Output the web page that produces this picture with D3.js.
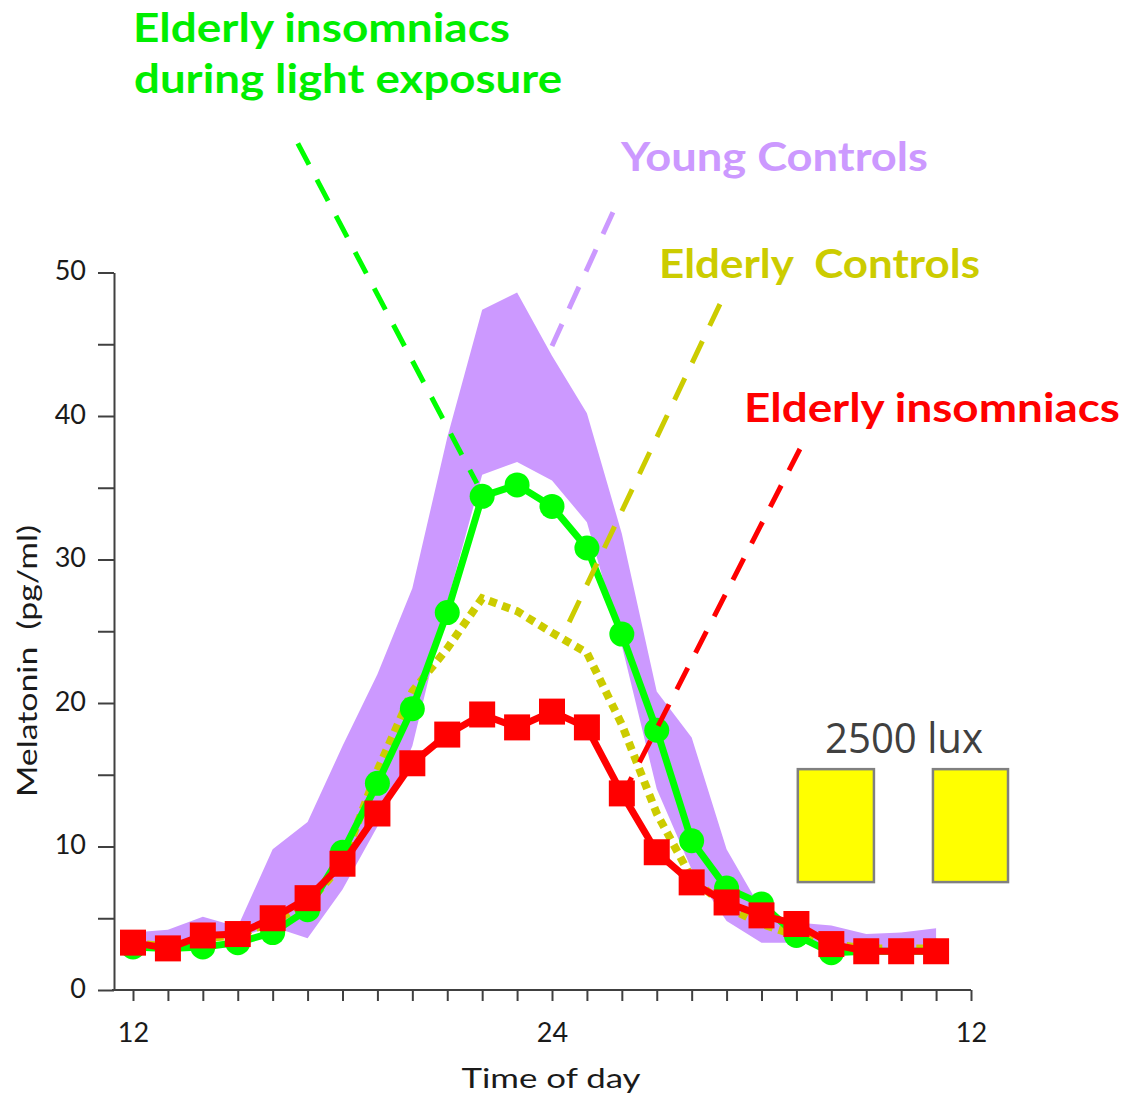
<!DOCTYPE html>
<html><head><meta charset="utf-8">
<script src="https://cdn.jsdelivr.net/npm/d3@7"></script>
<style>body{margin:0;background:#fff}svg{display:block}text{white-space:pre}</style>
</head><body>
<svg id="chart" width="1127" height="1095"></svg>
<script>
// ---------- data ----------
const hours = [12,13,14,15,16,17,18,19,20,21,22,23,24,25,26,27,28,29,30,31,32,33,34,35];
const youngUpper = [4.0,4.2,5.1,4.4,9.8,11.7,17.0,22.0,28.0,38.5,47.4,48.6,44.2,40.2,31.8,20.8,17.6,9.8,5.6,4.7,4.5,3.9,4.0,4.3];
const youngLower = [3.0,3.2,3.4,3.7,4.4,3.6,7.0,11.4,17.0,27.0,35.9,36.8,35.5,32.6,24.0,14.0,8.4,4.8,3.3,3.3,3.0,2.8,2.8,2.8];
const elderlyControls = [3.3,3.0,3.6,3.8,4.8,6.0,8.8,15.3,20.8,23.8,27.3,26.4,24.9,23.5,18.5,12.3,7.8,5.8,4.6,3.8,3.2,2.9,2.9,2.9];
const insomniacsLight = [3.0,2.9,3.0,3.3,4.0,5.6,9.6,14.4,19.6,26.3,34.4,35.2,33.7,30.8,24.8,18.1,10.4,7.1,6.0,3.8,2.6,2.7,2.7,2.7];
const insomniacs = [3.3,2.9,3.8,3.9,5.0,6.4,8.8,12.3,15.8,17.8,19.2,18.3,19.4,18.3,13.7,9.6,7.5,6.1,5.2,4.6,3.2,2.7,2.7,2.7];
const xTicks = [12,13,14,15,16,17,18,19,20,21,22,23,24,25,26,27,28,29,30,31,32,33,34,35,36];
const xTickLabels = {12:"12", 24:"24", 36:"12"};
const yTicks = [0,5,10,15,20,25,30,35,40,45,50];
const yTickLabels = {0:"0",10:"10",20:"20",30:"30",40:"40",50:"50"};
// light boxes (hours / melatonin units)
const lightBoxes = [{x0:31.04,x1:33.22,y0:7.52,y1:15.39},{x0:34.91,x1:37.06,y0:7.52,y1:15.39}];
// label pointers (hours / melatonin units)
const pointers = [
  {color:"#00ff00", from:[16.72,59.0], to:[21.85,35.3]},
  {color:"#cc99ff", from:[25.745,54.2], to:[23.91,44.4]},
  {color:"#cccc00", from:[28.81,47.8], to:[24.31,24.7]},
  {color:"#ff0000", from:[31.10,37.7], to:[26.09,13.9]}
];

// ---------- layout ----------
const svg = d3.select("#chart");
const x = d3.scaleLinear().domain([12,36]).range([133,971]);
const y = d3.scaleLinear().domain([0,50]).range([990,272.5]);
const yAxisX = 114;
const font = "Lato, 'Noto Sans', sans-serif";

// band
svg.append("path")
  .attr("d", d3.area().x((d,i)=>x(hours[i])).y0((d,i)=>y(youngLower[i])).y1((d,i)=>y(youngUpper[i]))(hours))
  .attr("fill","#cc99ff");

// elderly controls dotted
const line = vals => d3.line().x((d,i)=>x(hours[i])).y((d,i)=>y(vals[i]))(hours);
svg.append("path").attr("d", line(elderlyControls))
  .attr("fill","none").attr("stroke","#cccc00").attr("stroke-width",8).attr("stroke-dasharray","8,6");

// insomniacs during light
svg.append("path").attr("d", line(insomniacsLight))
  .attr("fill","none").attr("stroke","#00ff00").attr("stroke-width",7).attr("stroke-linejoin","round");
svg.selectAll("circle.g").data(insomniacsLight).join("circle")
  .attr("cx",(d,i)=>x(hours[i])).attr("cy",d=>y(d)).attr("r",12.5).attr("fill","#00ff00");

// insomniacs
svg.append("path").attr("d", line(insomniacs))
  .attr("fill","none").attr("stroke","#ff0000").attr("stroke-width",7).attr("stroke-linejoin","round");
svg.selectAll("rect.r").data(insomniacs).join("rect")
  .attr("x",(d,i)=>x(hours[i])-13).attr("y",d=>y(d)-13).attr("width",26).attr("height",26).attr("fill","#ff0000");

// pointers
svg.selectAll("line.p").data(pointers).join("line")
  .attr("x1",d=>x(d.from[0])).attr("y1",d=>y(d.from[1]))
  .attr("x2",d=>x(d.to[0])).attr("y2",d=>y(d.to[1]))
  .attr("stroke",d=>d.color).attr("stroke-width",5).attr("stroke-dasharray","24,17");

// light boxes
svg.selectAll("rect.lb").data(lightBoxes).join("rect")
  .attr("x",d=>x(d.x0)).attr("y",d=>y(d.y1)).attr("width",d=>x(d.x1)-x(d.x0)).attr("height",d=>y(d.y0)-y(d.y1))
  .attr("fill","#ffff00").attr("stroke","#808080").attr("stroke-width",2.5);

// axes
const yAxis = d3.axisLeft(y).tickValues(yTicks).tickSize(16).tickSizeOuter(0).tickPadding(12)
  .tickFormat(d=>yTickLabels[d]||"");
const gy = svg.append("g").attr("transform",`translate(${yAxisX},0)`).call(yAxis);
const xAxis = d3.axisBottom(x).tickValues(xTicks).tickSize(11).tickSizeOuter(0).tickPadding(22)
  .tickFormat(d=>xTickLabels[d]||"");
const gx = svg.append("g").attr("transform",`translate(0,${y(0)})`).call(xAxis);
gx.select(".domain").remove();
gx.append("line").attr("x1",yAxisX-2).attr("x2",x(36)).attr("stroke","#404040").attr("stroke-width",2);
[gx,gy].forEach(g=>{
  g.selectAll(".domain").attr("stroke","#404040").attr("stroke-width",2);
  g.selectAll(".tick line").attr("stroke","#404040").attr("stroke-width",2);
  g.selectAll("text").attr("font-family",font).attr("font-size",27).attr("fill","#1a1a1a");
});
gy.selectAll("text").attr("dy","0.27em");

// axis titles
svg.append("text").attr("x",551).attr("y",1088).attr("text-anchor","middle")
  .attr("font-family",font).attr("font-size",27).attr("fill","#1a1a1a")
  .attr("textLength",179).attr("lengthAdjust","spacingAndGlyphs").text("Time of day");
svg.append("text").attr("transform","translate(37,661) rotate(-90)").attr("text-anchor","middle")
  .attr("font-family",font).attr("font-size",27).attr("fill","#1a1a1a")
  .attr("textLength",272).attr("lengthAdjust","spacingAndGlyphs").text("Melatonin  (pg/ml)");

// series labels
const labels = [
  {t:"Elderly insomniacs", x:133, y:42, w:377, c:"#00ee00"},
  {t:"during light exposure", x:134, y:93, w:428, c:"#00ee00"},
  {t:"Young Controls", x:621, y:171, w:307, c:"#cc99ff"},
  {t:"Elderly  Controls", x:659, y:278, w:321, c:"#cccc00"},
  {t:"Elderly insomniacs", x:744, y:422, w:376, c:"#ff0000"}
];
svg.selectAll("text.lab").data(labels).join("text")
  .attr("x",d=>d.x).attr("y",d=>d.y).attr("fill",d=>d.c)
  .attr("font-family",font).attr("font-weight","bold").attr("font-size",41)
  .attr("textLength",d=>d.w).attr("lengthAdjust","spacingAndGlyphs").text(d=>d.t);

svg.append("text").attr("x",825).attr("y",753).attr("fill","#404040")
  .attr("font-family","'Open Sans', sans-serif").attr("font-size",42)
  .attr("textLength",158).attr("lengthAdjust","spacingAndGlyphs").text("2500 lux");
</script>
</body></html>
